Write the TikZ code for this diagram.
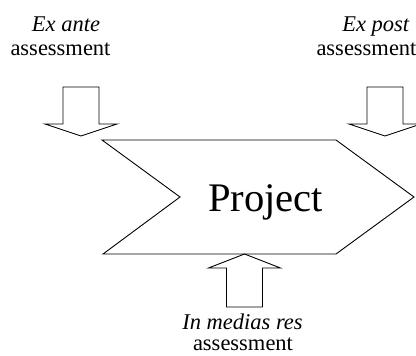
\documentclass[tikz,border=0pt]{standalone}
\usepackage{fontspec}
\setmainfont{Liberation Serif}
\usepackage{tikz}
\newcommand{\lblsize}{\fontsize{22.5}{25}\selectfont}

\begin{document}
\begin{tikzpicture}[x=1pt,y=1pt,line width=0.9pt,
		lbl/.style={anchor=base,inner sep=0pt,font=\lblsize}]
			\useasboundingbox (0,0) rectangle (416,-356);
			% project chevron
			\draw (102,-140) -- (336,-140) -- (414,-197) -- (336,-254) -- (103,-254) -- (180,-197) -- cycle;
			\node[anchor=base,inner sep=0pt,font=\fontsize{40.6}{44}\selectfont] (project) at (265.5,-211) {Project};
			% ex ante
			\node[lbl] (exante) at (66,-31) {\textit{Ex ante}};
			\node[lbl] (exanteass) at (60.5,-56) {assessment};
			\draw (63,-87) -- (99,-87) -- (99,-124) -- (117,-124) -- (81,-136) -- (45,-124) -- (63,-124) -- cycle;
			% ex post
			\node[lbl] (expost) at (376,-31.5) {\textit{Ex post}};
			\node[lbl] (expostass) at (366.5,-56) {assessment};
			\draw (367,-87) -- (403,-87) -- (403,-124) -- (421,-124) -- (385,-136) -- (349,-124) -- (367,-124) -- cycle;
			% in medias res
			\draw (226.5,-307) -- (262.5,-307) -- (262.5,-268) -- (280.5,-268) -- (244.5,-254) -- (208.5,-268) -- (226.5,-268) -- cycle;
			\node[lbl] (inmedias) at (242.5,-329) {\textit{In medias res}};
			\node[lbl] (inmediasass) at (243,-350) {assessment};
		\end{tikzpicture}
\end{document}
